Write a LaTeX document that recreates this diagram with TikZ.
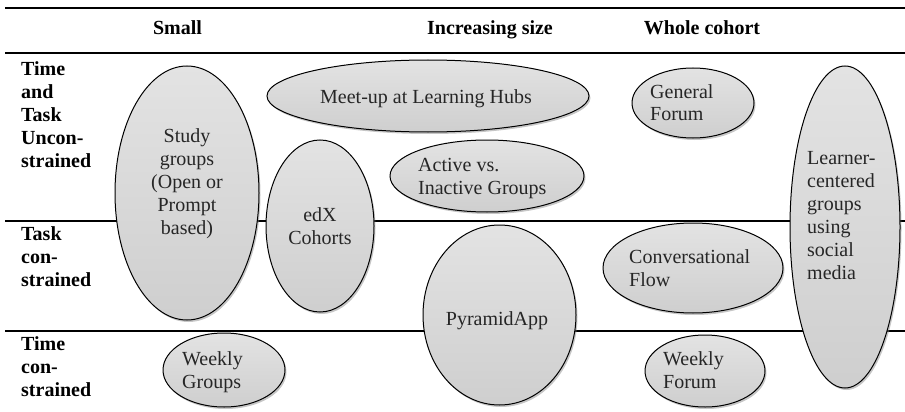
\documentclass[tikz,border=0pt]{standalone}
\usepackage{fontspec}
\setmainfont{Liberation Serif}
\usetikzlibrary{shapes.geometric,shadows}
\begin{document}
\begin{tikzpicture}[x=1pt,y=-1pt,
  bubble/.style={ellipse, draw=black, line width=1pt, inner sep=0pt,
    top color=gray!22, middle color=gray!6, bottom color=gray!38,
    drop shadow={shadow xshift=1.5pt, shadow yshift=-2pt, opacity=0.45, fill=gray}},
  txt/.style={font=\fontsize{20}{23}\selectfont, text=black!85, inner sep=0pt, align=left, anchor=base west},
  ctxt/.style={font=\fontsize{20}{23}\selectfont, text=black!85, inner sep=0pt, align=center, anchor=base},
  hdr/.style={font=\fontsize{20}{23}\selectfont\bfseries, inner sep=0pt, anchor=base},
  rowlab/.style={font=\fontsize{20}{23}\selectfont\bfseries, inner sep=0pt, align=left, anchor=base west},
  thickrule/.style={line width=2.4pt},
  thinrule/.style={line width=1.1pt}]
\useasboundingbox (0,0) rectangle (905,412);
% rules
\coordinate (r1a) at (5,8);   \coordinate (r1b) at (905,8);
\coordinate (r2a) at (5,53);  \coordinate (r2b) at (905,53);
\coordinate (r3a) at (5,221); \coordinate (r3b) at (905,221);
\coordinate (r4a) at (5,331); \coordinate (r4b) at (905,331);
\draw[thickrule] (r1a) -- (r1b);
\draw[thinrule] (r2a) -- (r2b);
\draw[thinrule] (r3a) -- (r3b);
\draw[thinrule] (r4a) -- (r4b);
% headers
\node[hdr] (hsmall) at (177.5,35) {Small};
\node[hdr] (hinc) at (490,35) {Increasing size};
\node[hdr] (hwhole) at (702,35) {Whole cohort};
% row labels (anchor = baseline of last line)
\node[rowlab] (row1) at (21,167) {Time\\and\\Task\\Uncon-\\strained};
\node[rowlab] (row2) at (21,286) {Task\\con-\\strained};
\node[rowlab] (row3) at (21,396) {Time\\con-\\strained};
% ellipses
\node[bubble, minimum width=144, minimum height=254] (study) at (187,193) {};
\node[bubble, minimum width=108, minimum height=172] (edx) at (320,226) {};
\node[bubble, minimum width=322, minimum height=72] (meet) at (428,96) {};
\node[bubble, minimum width=194, minimum height=72] (active) at (487,176) {};
\node[bubble, minimum width=122, minimum height=70] (general) at (693,103) {};
\node[bubble, minimum width=110, minimum height=322] (learner) at (845,227) {};
\node[bubble, minimum width=153, minimum height=180] (pyramid) at (499.5,315) {};
\node[bubble, minimum width=180, minimum height=90] (conv) at (693,268) {};
\node[bubble, minimum width=120, minimum height=72] (wforum) at (705,371) {};
\node[bubble, minimum width=122, minimum height=74] (wgroups) at (224,370) {};
% texts (anchor = baseline of last line)
\node[ctxt] (studyt) at (187,234) {Study\\groups\\(Open or\\Prompt\\based)};
\node[ctxt] (edxt) at (320,244) {edX\\Cohorts};
\node[txt] (meett) at (320,103) {Meet-up at Learning Hubs};
\node[txt] (activet) at (418,194) {Active vs.\\Inactive Groups};
\node[txt] (generalt) at (650,121) {General\\Forum};
\node[txt] (learnert) at (807,279) {Learner-\\centered\\groups\\using\\social\\media};
\node[ctxt] (pyramidt) at (497,325) {PyramidApp};
\node[txt] (convt) at (629,286) {Conversational\\Flow};
\node[txt] (wforumt) at (663,388) {Weekly\\Forum};
\node[txt] (wgroupst) at (182,388) {Weekly\\Groups};
\end{tikzpicture}
\end{document}
